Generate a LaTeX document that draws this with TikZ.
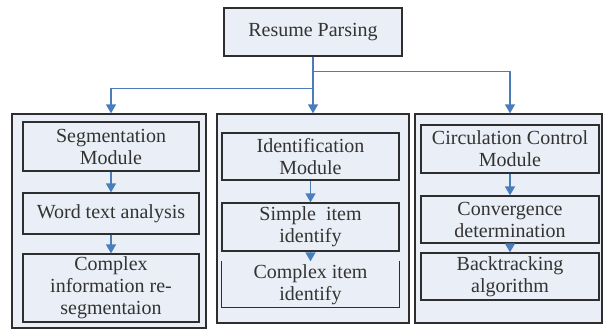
\documentclass[tikz,border=0pt]{standalone}
\usepackage{fontspec}
\setmainfont{Liberation Serif}
\usetikzlibrary{arrows.meta}
\definecolor{boxfill}{HTML}{EAEEF6}
\definecolor{boxline}{HTML}{2E2E2E}
\definecolor{linkblue}{HTML}{4A7EBB}
\begin{document}
\begin{tikzpicture}[x=1pt,y=-1pt,
		panel/.style={draw=boxline,fill=boxfill,line width=1.3pt,inner sep=0pt},
		box/.style={draw=boxline,fill=boxfill,line width=1.3pt,inner sep=0pt,align=center,text=black!80,font=\fontsize{20}{22}\selectfont},
		link/.style={draw=linkblue,line width=1.5pt,-{Triangle[width=10pt,length=9pt,fill=linkblue]}}]
			\useasboundingbox (0,0) rectangle (603,329);
			\node[box,minimum width=178pt,minimum height=48pt] (top) at (313,32) {Resume Parsing};
			\node[panel,minimum width=194pt,minimum height=214pt] (left) at (109,221) {};
			\node[panel,minimum width=192pt,minimum height=209pt] (mid) at (313,218.5) {};
			\node[panel,minimum width=187pt,minimum height=209pt] (right) at (508.5,218.5) {};
			\node[box,minimum width=176pt,minimum height=49pt] (seg) at (111,146.5) {Segmentation\\Module};
			\node[box,minimum width=176pt,minimum height=41pt] (word) at (111,213.5) {Word text analysis};
			\node[box,minimum width=176pt,minimum height=68pt] (cplx) at (111,288) {Complex\\information re-\\segmentaion};
			\node[box,minimum width=177pt,minimum height=47pt] (ident) at (310.5,156.5) {Identification\\Module};
			\node[box,minimum width=177pt,minimum height=48pt] (simple) at (310.5,227) {Simple~ item\\identify};
			\node[box,draw=none,minimum width=177pt,minimum height=45pt] (citem) at (310.5,284.5) {Complex item\\identify};
			\draw[draw=boxline,line width=1.6pt] (citem.north west) |- (citem.south east) -- (citem.north east);
			\node[box,minimum width=178pt,minimum height=48pt] (circ) at (510,149) {Circulation Control\\Module};
			\node[box,minimum width=178pt,minimum height=47pt] (conv) at (510,219.5) {Convergence\\determination};
			\node[box,minimum width=178pt,minimum height=47pt] (back) at (510,276.5) {Backtracking\\algorithm};
			\draw[link] (top.south) -- (mid.north);
			\draw[link] (top.south) -- ++(0,32) -| (seg.north |- left.north);
			\draw[link] (top.south) -- ++(0,15) -| (conv.north |- right.north);
			\draw[link] (seg) -- (word);
			\draw[link] (word) -- (cplx);
			\draw[link] (ident) -- (simple);
			\draw[link] (simple.south) -- (citem.north);
			\draw[link] (circ) -- (conv);
			\draw[link] (conv) -- (back);
\end{tikzpicture}
\end{document}
